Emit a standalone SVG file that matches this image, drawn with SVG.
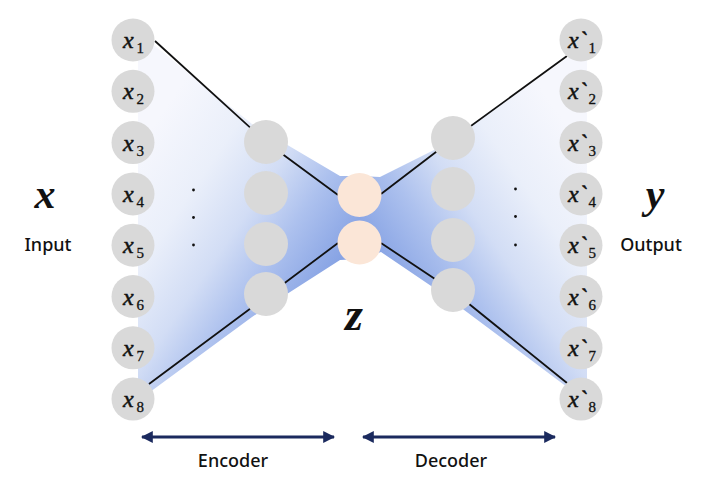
<svg xmlns="http://www.w3.org/2000/svg" width="714" height="485" viewBox="0 0 714 485">
<style>
.in{fill:#d9d9d9}
.hid{fill:#d9d9d9}
.lat{fill:#fbe6d7}
.conn{fill:none;stroke:#111;stroke-width:1.8;stroke-linejoin:round}
.var{font-family:"Liberation Serif","DejaVu Serif",serif;font-style:italic;fill:#111;stroke:#111;stroke-width:0.5}
.big{font-family:"Liberation Serif","DejaVu Serif",serif;font-style:italic;font-weight:bold;fill:#111}
.sub{font-family:"Liberation Serif","DejaVu Serif",serif;font-style:normal;fill:#111;stroke:#111;stroke-width:0.3}
.lbl{font-family:"Noto Sans","Liberation Sans",sans-serif;font-weight:500;fill:#111}
.arr{stroke:#1b2a5e;stroke-width:3;fill:none}
.dot{fill:#111}
</style>
<defs>
<linearGradient id="gl" gradientUnits="userSpaceOnUse" x1="150" y1="130" x2="340" y2="260">
<stop offset="0" stop-color="#f6f7fd"/>
<stop offset="0.3" stop-color="#eaeffa"/>
<stop offset="0.55" stop-color="#d2ddf5"/>
<stop offset="0.75" stop-color="#adc1ee"/>
<stop offset="1" stop-color="#87a3e4"/>
</linearGradient>
<linearGradient id="gr" gradientUnits="userSpaceOnUse" x1="570" y1="130" x2="380" y2="260">
<stop offset="0" stop-color="#f6f7fd"/>
<stop offset="0.3" stop-color="#eaeffa"/>
<stop offset="0.55" stop-color="#d2ddf5"/>
<stop offset="0.75" stop-color="#adc1ee"/>
<stop offset="1" stop-color="#87a3e4"/>
</linearGradient>
<marker id="ah" viewBox="0 0 10 10" refX="9" refY="5" markerWidth="4" markerHeight="4" orient="auto-start-reverse" markerUnits="strokeWidth">
<path d="M0,0 L10,5 L0,10 Z" fill="#1b2a5e"/>
</marker>
</defs>

<g id="shading">
<path d="M360,176 L360,259 L340,260 L287,294 L252,317 L150,392 L138,395 L138,45 L150,42 L252,124 L340,176 Z" fill="url(#gl)"/>
<path d="M360,176 L380,177 L438,148 L567,58 L587,45 L587,380 L567,387 L440,292 L381,252 L360,259 Z" fill="url(#gr)"/>
</g>

<g id="connectors">
<polyline class="conn" points="155,41 266,142 338,195"/>
<polyline class="conn" points="149,384 266,297 338,243"/>
<polyline class="conn" points="381,194 453,139 567,56"/>
<polyline class="conn" points="381,243 453,291 567,383"/>
</g>

<g id="input-layer">
<g id="x1"><circle class="in" cx="133" cy="40" r="21.5"/><text class="var" x="123" y="48" font-size="24">x</text><text class="sub" x="136.5" y="53" font-size="15">1</text></g>
<g id="x2"><circle class="in" cx="133" cy="91.3" r="21.5"/><text class="var" x="123" y="99.3" font-size="24">x</text><text class="sub" x="136.5" y="104.3" font-size="15">2</text></g>
<g id="x3"><circle class="in" cx="133" cy="142.6" r="21.5"/><text class="var" x="123" y="150.6" font-size="24">x</text><text class="sub" x="136.5" y="155.6" font-size="15">3</text></g>
<g id="x4"><circle class="in" cx="133" cy="193.9" r="21.5"/><text class="var" x="123" y="201.9" font-size="24">x</text><text class="sub" x="136.5" y="206.9" font-size="15">4</text></g>
<g id="x5"><circle class="in" cx="133" cy="245.2" r="21.5"/><text class="var" x="123" y="253.2" font-size="24">x</text><text class="sub" x="136.5" y="258.2" font-size="15">5</text></g>
<g id="x6"><circle class="in" cx="133" cy="296.5" r="21.5"/><text class="var" x="123" y="304.5" font-size="24">x</text><text class="sub" x="136.5" y="309.5" font-size="15">6</text></g>
<g id="x7"><circle class="in" cx="133" cy="347.8" r="21.5"/><text class="var" x="123" y="355.8" font-size="24">x</text><text class="sub" x="136.5" y="360.8" font-size="15">7</text></g>
<g id="x8"><circle class="in" cx="133" cy="399.1" r="21.5"/><text class="var" x="123" y="407.1" font-size="24">x</text><text class="sub" x="136.5" y="412.1" font-size="15">8</text></g>
</g>

<g id="encoder-hidden">
<g id="h1"><circle class="hid" cx="266" cy="142" r="22"/></g>
<g id="h2"><circle class="hid" cx="266" cy="193" r="22"/></g>
<g id="h3"><circle class="hid" cx="266" cy="244" r="22"/></g>
<g id="h4"><circle class="hid" cx="266" cy="294" r="22"/></g>
</g>

<g id="latent">
<g id="z1"><circle class="lat" cx="359.5" cy="195" r="22"/></g>
<g id="z2"><circle class="lat" cx="359.5" cy="242.5" r="22"/></g>
</g>

<g id="decoder-hidden">
<g id="d1"><circle class="hid" cx="453" cy="138" r="22"/></g>
<g id="d2"><circle class="hid" cx="453" cy="189" r="22"/></g>
<g id="d3"><circle class="hid" cx="453" cy="240" r="22"/></g>
<g id="d4"><circle class="hid" cx="453" cy="290" r="22"/></g>
</g>

<g id="output-layer">
<g id="y1"><circle class="in" cx="581" cy="40" r="21.5"/><text class="var" x="568" y="48" font-size="24">x`</text><text class="sub" x="588.5" y="53" font-size="15">1</text></g>
<g id="y2"><circle class="in" cx="581" cy="91.3" r="21.5"/><text class="var" x="568" y="99.3" font-size="24">x`</text><text class="sub" x="588.5" y="104.3" font-size="15">2</text></g>
<g id="y3"><circle class="in" cx="581" cy="142.6" r="21.5"/><text class="var" x="568" y="150.6" font-size="24">x`</text><text class="sub" x="588.5" y="155.6" font-size="15">3</text></g>
<g id="y4"><circle class="in" cx="581" cy="193.9" r="21.5"/><text class="var" x="568" y="201.9" font-size="24">x`</text><text class="sub" x="588.5" y="206.9" font-size="15">4</text></g>
<g id="y5"><circle class="in" cx="581" cy="245.2" r="21.5"/><text class="var" x="568" y="253.2" font-size="24">x`</text><text class="sub" x="588.5" y="258.2" font-size="15">5</text></g>
<g id="y6"><circle class="in" cx="581" cy="296.5" r="21.5"/><text class="var" x="568" y="304.5" font-size="24">x`</text><text class="sub" x="588.5" y="309.5" font-size="15">6</text></g>
<g id="y7"><circle class="in" cx="581" cy="347.8" r="21.5"/><text class="var" x="568" y="355.8" font-size="24">x`</text><text class="sub" x="588.5" y="360.8" font-size="15">7</text></g>
<g id="y8"><circle class="in" cx="581" cy="399.1" r="21.5"/><text class="var" x="568" y="407.1" font-size="24">x`</text><text class="sub" x="588.5" y="412.1" font-size="15">8</text></g>
</g>

<g id="dots">
<circle class="dot" cx="193.5" cy="190" r="1.4"/>
<circle class="dot" cx="193.5" cy="217.5" r="1.4"/>
<circle class="dot" cx="193.5" cy="245" r="1.4"/>
<circle class="dot" cx="515.5" cy="189" r="1.4"/>
<circle class="dot" cx="515.5" cy="216.5" r="1.4"/>
<circle class="dot" cx="515.5" cy="245" r="1.4"/>
</g>

<g id="labels">
<text class="big" x="45" y="208" font-size="42" text-anchor="middle">x</text>
<text class="lbl" x="48" y="251" font-size="18" text-anchor="middle">Input</text>
<text class="big" x="655" y="208" font-size="42" text-anchor="middle">y</text>
<text class="lbl" x="651" y="251" font-size="18" text-anchor="middle">Output</text>
<text class="big" x="354" y="330" font-size="46" text-anchor="middle">z</text>
</g>

<g id="arrows">
<line class="arr" x1="142" y1="437" x2="334" y2="437" marker-start="url(#ah)" marker-end="url(#ah)"/>
<line class="arr" x1="363" y1="437" x2="555" y2="437" marker-start="url(#ah)" marker-end="url(#ah)"/>
<text class="lbl" x="233" y="467" font-size="18" text-anchor="middle">Encoder</text>
<text class="lbl" x="451" y="467" font-size="18" text-anchor="middle">Decoder</text>
</g>
</svg>
